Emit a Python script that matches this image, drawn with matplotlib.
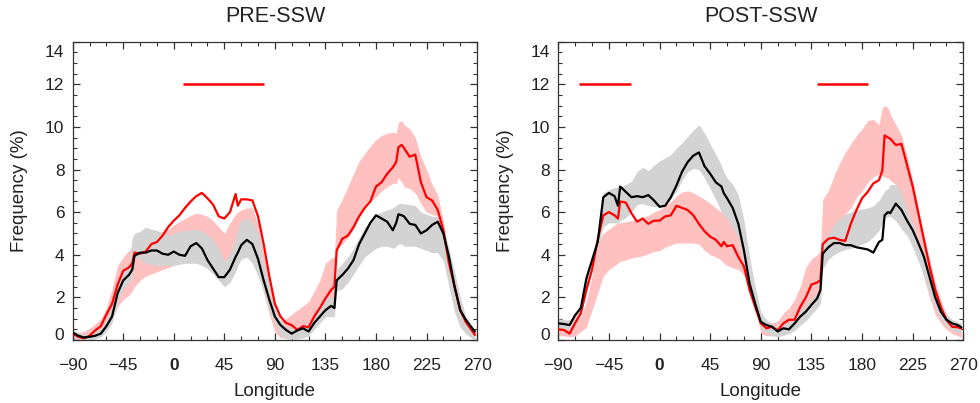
import matplotlib
matplotlib.use('Agg')
import matplotlib.pyplot as plt
from matplotlib.ticker import MultipleLocator
from matplotlib.transforms import ScaledTranslation

plt.rcParams['font.family'] = ['Liberation Sans', 'DejaVu Sans']

# ---------------- data ----------------
lon = [-90, -85, -80, -75, -70, -65, -60, -55, -50, -45, -40, -37, -35, -30, -25, -20, -15, -10, -5,
       0, 5, 10, 15, 20, 25, 30, 35, 40, 45, 50, 55, 57, 60, 65, 70, 75, 80, 85, 90, 95, 100, 105,
       110, 115, 120, 125, 130, 135, 140, 143, 145, 150, 155, 160, 165, 170, 175, 180, 185, 190,
       195, 198, 200, 203, 205, 210, 215, 220, 225, 230, 235, 240, 245, 250, 255, 260, 265, 268]

pre_red = [0.3, 0.15, 0.08, 0.2, 0.45, 0.65, 1.2, 1.7, 2.6, 3.25, 3.4, 3.6, 4.1, 4.05, 4.15, 4.5, 4.6,
           4.9, 5.3, 5.6, 5.85, 6.2, 6.5, 6.75, 6.9, 6.65, 6.35, 5.8, 5.7, 6.0, 6.85, 6.3, 6.6, 6.6,
           6.55, 5.8, 4.5, 3.0, 1.7, 1.1, 0.8, 0.7, 0.47, 0.65, 0.6, 1.1, 1.5, 1.95, 2.35, 2.5, 4.2,
           4.75, 4.9, 5.3, 5.8, 6.2, 6.5, 7.2, 7.4, 7.8, 8.1, 8.35, 9.05, 9.15, 9.0, 8.6, 8.7, 7.4,
           6.7, 6.55, 6.1, 5.15, 3.6, 2.5, 1.4, 0.85, 0.47, 0.25]
pre_black = [0.35, 0.2, 0.12, 0.15, 0.2, 0.3, 0.65, 1.1, 2.2, 2.8, 3.05, 3.3, 3.95, 4.1, 4.1, 4.2,
             4.2, 4.05, 4.0, 4.15, 4.0, 3.95, 4.4, 4.55, 4.3, 3.75, 3.35, 2.95, 2.95, 3.3, 3.9, 4.1,
             4.45, 4.7, 4.5, 3.8, 2.8, 1.9, 1.1, 0.7, 0.47, 0.3, 0.45, 0.55, 0.4, 0.8, 1.1, 1.4, 1.6,
             1.5, 2.8, 3.05, 3.35, 3.75, 4.5, 5.0, 5.5, 5.85, 5.7, 5.55, 5.15, 5.5, 5.9, 5.85, 5.8,
             5.45, 5.4, 5.0, 5.15, 5.4, 5.55, 5.0, 3.9, 2.5, 1.4, 0.95, 0.6, 0.4]
pre_red_lo = [0.0, 0.0, 0.0, 0.1, 0.2, 0.4, 0.6, 0.9, 1.6, 1.9, 2.1, 2.3, 2.5, 2.8, 3.0, 3.1, 3.2,
              3.3, 3.4, 3.5, 3.6, 3.7, 3.7, 3.7, 3.7, 3.7, 3.6, 3.5, 3.6, 3.7, 3.8, 3.8, 3.8, 3.9,
              3.8, 3.2, 2.2, 1.2, 0.4, 0.1, 0.1, 0.15, 0.2, 0.25, 0.3, 0.6, 1.1, 1.5, 1.8, 2.0, 4.3,
              4.5, 4.8, 5.2, 5.8, 6.2, 6.5, 6.7, 7.0, 7.2, 7.35, 7.35, 7.6, 7.4, 7.2, 7.1, 6.9, 6.4,
              6.0, 5.9, 5.8, 5.0, 3.6, 2.3, 1.3, 0.6, 0.1, 0.0]
pre_red_hi = [0.35, 0.35, 0.4, 0.55, 0.75, 1.0, 1.5, 2.4, 3.5, 3.9, 4.2, 4.3, 4.4, 4.5, 4.6, 4.8,
              5.0, 5.1, 5.2, 5.4, 5.55, 5.7, 5.85, 5.95, 5.9, 5.8, 5.6, 5.3, 5.0, 5.5, 5.9, 6.0, 6.1,
              6.2, 6.2, 5.4, 4.0, 2.6, 1.4, 0.9, 1.0, 1.2, 1.4, 1.6, 1.8, 2.3, 2.8, 3.6, 3.85, 3.9,
              6.1, 6.6, 7.2, 7.8, 8.4, 8.75, 9.1, 9.4, 9.6, 9.7, 9.75, 9.7, 10.2, 10.3, 10.1, 9.9,
              9.5, 8.6, 8.0, 7.3, 6.8, 5.6, 3.9, 3.1, 1.9, 1.1, 0.6, 0.4]
pre_grey_lo = [0.15, 0.05, 0.0, 0.0, 0.05, 0.15, 0.4, 0.8, 1.8, 2.4, 2.7, 3.0, 3.9, 3.8, 3.6, 3.55,
               3.5, 3.5, 3.5, 3.5, 3.55, 3.6, 3.6, 3.6, 3.5, 3.35, 3.1, 2.8, 2.5, 2.7, 3.2, 3.5,
               3.8, 3.9, 3.6, 3.0, 2.3, 1.4, 0.8, 0.2, 0.05, 0.05, 0.05, 0.1, 0.2, 0.5, 0.8, 1.1,
               1.1, 1.1, 2.3, 2.4, 2.7, 3.1, 3.5, 3.9, 4.1, 4.3, 4.4, 4.4, 4.3, 4.4, 4.5, 4.5, 4.4,
               4.4, 4.4, 4.3, 4.2, 4.1, 4.1, 3.7, 2.5, 1.3, 0.6, 0.3, 0.1, 0.0]
pre_grey_hi = [0.45, 0.35, 0.25, 0.3, 0.4, 0.55, 0.95, 1.5, 2.6, 3.2, 3.6, 4.8, 5.0, 5.1, 5.3, 5.2,
               5.15, 5.0, 4.9, 5.0, 5.1, 5.15, 5.15, 5.2, 5.1, 4.95, 4.7, 4.3, 3.7, 4.0, 4.8, 5.2,
               5.6, 5.7, 5.55, 5.0, 3.6, 2.5, 1.6, 0.9, 0.6, 0.55, 0.6, 0.7, 0.8, 1.2, 1.7, 2.0, 2.0,
               2.0, 3.3, 3.6, 3.9, 4.3, 4.8, 5.3, 5.6, 5.9, 6.0, 6.1, 6.2, 6.3, 6.4, 6.4, 6.4, 6.35,
               6.3, 6.0, 5.9, 5.8, 5.8, 5.3, 4.3, 3.2, 2.0, 1.1, 0.6, 0.45]

post_red = [0.5, 0.47, 0.3, 0.8, 1.25, 2.35, 3.3, 4.7, 5.85, 6.0, 5.85, 5.7, 6.5, 6.45, 5.95, 5.55,
            5.7, 5.45, 5.6, 5.6, 5.8, 5.85, 6.3, 6.2, 6.1, 5.85, 5.45, 5.1, 4.85, 4.7, 4.4, 4.6, 4.4,
            4.45, 3.9, 3.45, 2.35, 1.55, 0.78, 0.55, 0.62, 0.45, 0.78, 0.95, 0.95, 1.55, 2.0, 2.6,
            2.7, 2.8, 4.5, 4.75, 4.8, 4.7, 4.65, 5.45, 6.1, 6.65, 6.95, 7.35, 7.5, 7.95, 9.6, 9.5,
            9.45, 9.15, 9.2, 8.2, 7.2, 5.95, 4.7, 3.45, 2.35, 1.55, 0.95, 0.62, 0.6, 0.55]
post_black = [0.78, 0.75, 0.7, 1.17, 1.5, 2.9, 3.75, 4.6, 6.7, 6.9, 6.75, 6.3, 7.2, 6.95, 6.7, 6.75,
              6.7, 6.8, 6.55, 6.25, 6.3, 6.7, 7.25, 7.9, 8.35, 8.65, 8.8, 8.15, 7.8, 7.4, 7.2, 6.9,
              6.65, 6.2, 5.45, 4.2, 2.65, 1.7, 0.85, 0.7, 0.62, 0.4, 0.55, 0.5, 0.78, 1.1, 1.33,
              1.65, 1.95, 2.35, 4.05, 4.35, 4.55, 4.55, 4.45, 4.45, 4.35, 4.3, 4.25, 4.1, 4.6, 4.7,
              5.85, 6.0, 5.95, 6.4, 6.1, 5.6, 5.15, 4.55, 3.9, 2.95, 2.0, 1.33, 0.95, 0.78, 0.7, 0.6]
post_red_lo = [0.2, 0.2, 0.15, 0.2, 0.4, 0.6, 1.4, 2.2, 3.0, 3.3, 3.5, 3.6, 3.7, 3.75, 3.85, 3.9,
               3.95, 4.05, 4.15, 4.2, 4.35, 4.45, 4.55, 4.55, 4.55, 4.55, 4.5, 4.2, 4.0, 3.9, 3.75,
               3.6, 3.5, 3.4, 3.3, 3.05, 2.5, 1.6, 0.3, 0.2, 0.2, 0.23, 0.3, 0.4, 0.7, 0.9, 1.0, 1.3,
               1.6, 1.9, 4.4, 4.6, 4.8, 5.3, 5.9, 6.2, 6.7, 7.0, 7.4, 7.65, 7.8, 7.7, 7.65, 7.6, 7.5,
               7.3, 6.7, 5.8, 4.9, 3.9, 2.9, 2.0, 1.2, 0.8, 0.5, 0.3, 0.2, 0.1]
post_red_hi = [0.7, 0.7, 0.7, 0.8, 1.1, 1.8, 3.0, 4.6, 5.0, 5.2, 5.4, 5.5, 5.5, 5.55, 5.6, 5.65, 5.75,
               5.85, 6.0, 6.1, 6.3, 6.5, 6.75, 6.95, 7.0, 6.9, 6.75, 6.6, 6.4, 6.2, 6.0, 5.9, 5.8,
               5.5, 4.9, 4.2, 3.4, 2.3, 1.3, 0.9, 0.8, 0.9, 1.25, 1.5, 1.9, 2.5, 3.4, 3.8, 4.0, 4.2,
               6.6, 7.0, 7.7, 8.3, 8.8, 9.2, 9.6, 9.9, 10.3, 10.35, 10.1, 10.9, 11.0, 10.9, 10.6,
               10.1, 9.6, 8.6, 7.5, 6.2, 4.9, 3.8, 2.7, 1.9, 1.2, 0.9, 0.8, 0.75]
post_grey_lo = [0.55, 0.55, 0.5, 0.75, 1.2, 2.5, 3.5, 4.3, 5.3, 5.5, 5.5, 5.5, 5.6, 5.75, 6.0, 6.35,
                6.4, 6.3, 6.25, 6.3, 6.4, 6.6, 7.0, 7.5, 7.9, 8.05, 8.0, 7.6, 7.1, 6.6, 6.0, 5.8,
                5.7, 5.25, 4.8, 3.6, 2.4, 1.4, 0.5, 0.35, 0.2, 0.15, 0.22, 0.3, 0.45, 0.7, 0.9, 1.2,
                1.5, 1.7, 3.3, 3.8, 4.0, 4.15, 4.25, 4.3, 4.4, 4.5, 4.6, 4.85, 5.15, 5.5, 5.7, 5.8,
                5.8, 5.6, 5.2, 4.9, 4.35, 3.7, 3.0, 2.2, 1.5, 1.0, 0.65, 0.45, 0.35, 0.3]
post_grey_hi = [1.0, 0.95, 0.95, 1.25, 1.7, 3.0, 4.0, 4.8, 6.9, 7.05, 7.15, 7.2, 7.2, 7.3, 7.45, 7.9,
                8.1, 7.95, 8.2, 8.4, 8.55, 8.7, 9.0, 9.25, 9.55, 9.85, 10.1, 9.7, 9.2, 8.7, 8.2, 7.9,
                7.6, 7.3, 6.8, 5.6, 3.9, 2.5, 1.3, 0.95, 0.75, 0.6, 0.7, 0.8, 1.0, 1.3, 1.6, 1.9, 2.2,
                2.4, 4.4, 5.0, 5.4, 5.7, 5.9, 6.0, 6.1, 6.15, 6.2, 6.3, 6.55, 6.8, 7.0, 7.1, 7.3, 7.3,
                6.9, 6.1, 5.45, 4.7, 4.0, 3.3, 2.5, 1.8, 1.2, 0.95, 0.85, 0.8]

pre_sig = [(8, 80)]
post_sig = [(-72, -25), (140, 185)]
sig_level = 12

titles = ['PRE-SSW', 'POST-SSW']
xticks = [-90, -45, 0, 45, 90, 135, 180, 225, 270]
yticks = [0, 2, 4, 6, 8, 10, 12, 14]

# ---------------- figure ----------------
fig = plt.figure(figsize=(9.8, 4.03), dpi=100)
ax1 = fig.add_axes([0.0742, 0.1563, 0.4126, 0.7404])
ax2 = fig.add_axes([0.5697, 0.1563, 0.4133, 0.7404])

PINK = '#ffc0c0'
GREY = '#d3d3d3'
TXT = '#222222'

panels = [
    (ax1, pre_red, pre_black, pre_red_lo, pre_red_hi, pre_grey_lo, pre_grey_hi, pre_sig, titles[0]),
    (ax2, post_red, post_black, post_red_lo, post_red_hi, post_grey_lo, post_grey_hi, post_sig, titles[1]),
]

for ax, red, black, rlo, rhi, glo, ghi, sig, title in panels:
    ax.fill_between(lon, rlo, rhi, color=PINK, lw=0, zorder=1)
    ax.fill_between(lon, glo, ghi, color=GREY, lw=0, zorder=2)
    ax.plot(lon, red, color='#ff0000', lw=1.6, zorder=3)
    ax.plot(lon, black, color='black', lw=1.6, zorder=4)
    for a, b in sig:
        ax.plot([a, b], [sig_level, sig_level], color='#ff0000', lw=1.8, zorder=5,
                solid_capstyle='butt')
    ax.set_xlim(-90, 270)
    ax.set_ylim(0, 14)
    ax.set_xticks(xticks)
    ax.set_yticks(yticks)
    ax.xaxis.set_minor_locator(MultipleLocator(15))
    ax.yaxis.set_minor_locator(MultipleLocator(0.5))
    ax.tick_params(which='both', direction='in', top=True, right=True, colors='#333333',
                   labelcolor=TXT, labelsize=12.5)
    ax.tick_params(which='major', length=5, width=0.9)
    ax.tick_params(which='minor', length=2.6, width=0.8)
    ax.tick_params(axis='x', which='major', pad=13)
    ax.tick_params(axis='y', which='major', pad=6)
    for s in ax.spines.values():
        s.set_linewidth(0.9)
        s.set_color('#333333')
    ax.set_title(title, fontsize=15.5, color=TXT, pad=14)
    ax.set_xlabel('Longitude', fontsize=13.5, color=TXT, labelpad=7)
    ax.set_ylabel('Frequency (%)', fontsize=13.5, color=TXT, labelpad=12)

    ylabels = ax.get_yticklabels()
    ylabels[0].set_transform(ylabels[0].get_transform() +
                             ScaledTranslation(0, 0.06, fig.dpi_scale_trans))
    ylabels[-1].set_transform(ylabels[-1].get_transform() +
                              ScaledTranslation(0, -0.09, fig.dpi_scale_trans))
    for lab in ax.get_xticklabels():
        if lab.get_text() in ('0',):
            lab.set_fontweight('bold')

fig.savefig('out.png', dpi=100)
